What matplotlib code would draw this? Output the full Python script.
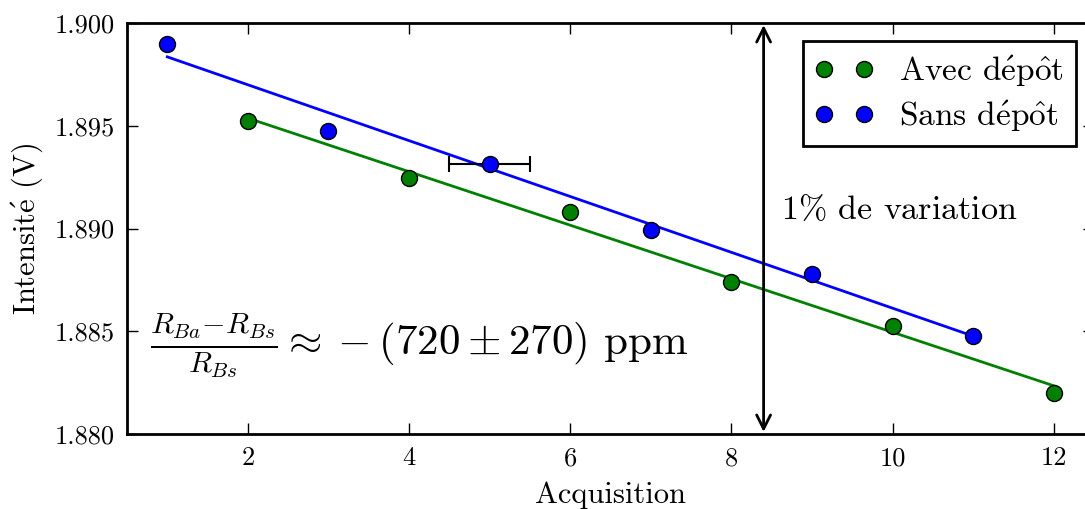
import numpy as np
import matplotlib
matplotlib.use("Agg")
import matplotlib.pyplot as plt

plt.rcParams['font.family'] = ['serif']
plt.rcParams['font.serif'] = ['cmr10', 'DejaVu Serif']
plt.rcParams['mathtext.fontset'] = 'cm'
plt.rcParams['axes.unicode_minus'] = False

# données
acq_avec = [2, 4, 6, 8, 10, 12]
int_avec = [1.89523, 1.89246, 1.89080, 1.88740, 1.88526, 1.88200]
acq_sans = [1, 3, 5, 7, 9, 11]
int_sans = [1.89898, 1.89474, 1.89314, 1.88993, 1.88779, 1.88477]
err_x = 5
err_y = 1.89314
err_dx = 0.5

fig = plt.figure(figsize=(10.85, 5.09), dpi=100)
ax = fig.add_axes([127/1085, 75/509, 967/1085, 411/509])

# ajustements lineaires
pa = np.polyfit(acq_avec, int_avec, 1)
ps = np.polyfit(acq_sans, int_sans, 1)
xa = np.array([acq_avec[0], acq_avec[-1]])
xs = np.array([acq_sans[0], acq_sans[-1]])
ax.plot(xa, np.polyval(pa, xa), color='green', lw=2, zorder=2)
ax.plot(xs, np.polyval(ps, xs), color='blue', lw=2, zorder=2)

ax.errorbar([err_x], [err_y], xerr=[err_dx], fmt='none', ecolor='k',
            elinewidth=1.5, capsize=6, capthick=1.5, zorder=3)

ax.plot(acq_avec, int_avec, 'o', color='green', mec='k', mew=1, ms=11.5,
        label=r'Avec d$\acute{\mathrm{e}}$p$\hat{\mathrm{o}}$t', zorder=4)
ax.plot(acq_sans, int_sans, 'o', color='blue', mec='k', mew=1, ms=11.5,
        label=r'Sans d$\acute{\mathrm{e}}$p$\hat{\mathrm{o}}$t', zorder=4)

ax.annotate('', xy=(8.4, 1.8999), xytext=(8.4, 1.8801),
            arrowprops=dict(arrowstyle='<->', lw=2, color='k',
                            mutation_scale=25, shrinkA=0, shrinkB=0))
ax.text(8.61, 1.8909, r'1$\%$ de variation', fontsize=24.5, va='center')
ax.text(0.78, 1.8843,
        r'$\frac{R_{Ba}{-}R_{Bs}}{R_{Bs}}\approx -(720 \pm 270)$ ppm',
        fontsize=31, va='center')

ax.set_xlim(0.5, 12.5)
ax.set_ylim(1.880, 1.900)
ax.set_xticks([2, 4, 6, 8, 10, 12])
ax.set_yticks([1.880, 1.885, 1.890, 1.895, 1.900])
ax.yaxis.set_major_formatter(matplotlib.ticker.FormatStrFormatter('%.3f'))
ax.tick_params(direction='in', length=8, width=1, top=True, right=True,
               labelsize=19, pad=9)
for s in ax.spines.values():
    s.set_linewidth(2)

ax.set_xlabel('Acquisition', fontsize=22, labelpad=8)
ax.set_ylabel(r'Intensit$\acute{\mathrm{e}}$ (V)', fontsize=22, labelpad=7)

leg = ax.legend(loc='upper right', numpoints=2, fontsize=24, fancybox=False,
                framealpha=1, edgecolor='k', borderaxespad=0.55,
                handletextpad=0.75, borderpad=0.35, labelspacing=0.3,
                handlelength=1.8)
leg.get_frame().set_linewidth(2)

fig.savefig('out.png', dpi=100)
